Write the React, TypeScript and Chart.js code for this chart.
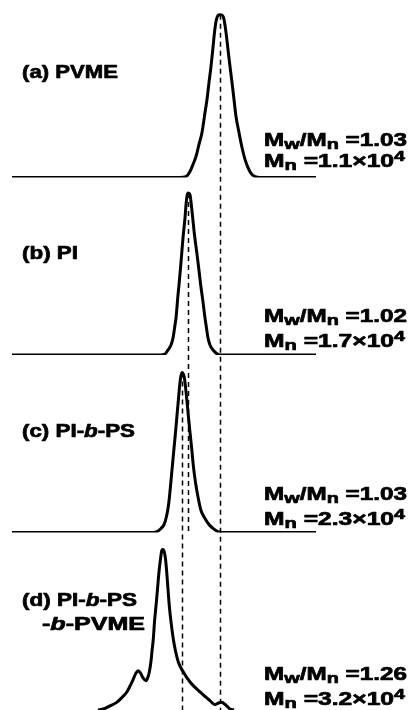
import { useEffect, useRef } from 'react';
import { Chart, registerables } from 'chart.js';

Chart.register(...registerables);

// ---- Data (elution axis in arbitrary units, normalised RI signal) ----
const elutionA = [6, 90, 93, 95, 96.5, 98, 99.5, 101, 102.5, 103.5, 104.5, 105.5, 106.5, 107.25, 108, 109, 110, 111, 112, 113, 114, 115, 116, 117, 118, 119.5, 121, 122.5, 124, 125.5, 127.5, 130, 158];
const signalA = [0, 0, 0.006, 0.037, 0.08, 0.129, 0.203, 0.276, 0.399, 0.479, 0.584, 0.682, 0.799, 0.891, 0.958, 0.995, 1.0, 0.998, 0.971, 0.891, 0.786, 0.682, 0.584, 0.479, 0.375, 0.276, 0.184, 0.111, 0.061, 0.025, 0.006, 0, 0];

const elutionB = [6, 80, 82.5, 84, 85.5, 86.5, 87.5, 88, 89, 89.5, 90.5, 91, 91.5, 92, 92.5, 93, 93.5, 94.15, 95, 95.5, 96.35, 97.25, 98.35, 99.35, 100.35, 101.5, 102.5, 103.25, 104, 105, 106.5, 108, 110, 158];
const signalB = [0, 0, 0.006, 0.031, 0.061, 0.104, 0.184, 0.227, 0.369, 0.43, 0.571, 0.645, 0.719, 0.78, 0.842, 0.921, 0.977, 0.995, 0.983, 0.94, 0.842, 0.737, 0.633, 0.534, 0.43, 0.326, 0.227, 0.166, 0.104, 0.061, 0.031, 0.012, 0, 0];

const elutionC = [6, 75, 78.5, 80.5, 82, 83, 84, 84.65, 85.5, 86.15, 87, 87.75, 88.5, 89.25, 90, 90.5, 91.15, 91.75, 92.25, 93.35, 94.15, 95, 95.85, 96.65, 97.75, 99.15, 100.5, 102.5, 104.5, 106.5, 109, 111, 158];
const signalC = [0, 0, 0.006, 0.025, 0.049, 0.086, 0.147, 0.209, 0.319, 0.405, 0.516, 0.614, 0.719, 0.823, 0.921, 0.964, 0.983, 0.971, 0.946, 0.823, 0.719, 0.614, 0.516, 0.412, 0.307, 0.209, 0.135, 0.086, 0.049, 0.025, 0.006, 0, 0];

const elutionD = [49, 51.65, 55, 58.35, 61, 63.35, 65, 66.65, 68, 69.15, 70.25, 71.5, 73, 74, 74.75, 75.5, 76, 76.65, 77.25, 78, 78.75, 79.5, 80.25, 80.85, 81.35, 82, 82.75, 83.35, 84, 84.65, 85.5, 86.65, 87.75, 89.15, 91.65, 95, 100, 105, 107.5, 109.25, 110.85, 112.25, 113.35, 115, 117];
const signalD = [0, 0.006, 0.025, 0.047, 0.077, 0.109, 0.147, 0.19, 0.227, 0.241, 0.227, 0.197, 0.18, 0.203, 0.24, 0.301, 0.362, 0.436, 0.541, 0.639, 0.743, 0.848, 0.928, 0.977, 0.985, 0.977, 0.928, 0.848, 0.743, 0.639, 0.541, 0.436, 0.362, 0.295, 0.233, 0.172, 0.111, 0.057, 0.033, 0.043, 0.047, 0.037, 0.026, 0.006, 0];

const panelTags = ['(a)', '(b)', '(c)', '(d)'];
// *b* marks an italic "b"; | marks a line break
const sampleNames = ['PVME', 'PI', 'PI-*b*-PS', 'PI-*b*-PS|-*b*-PVME'];
const dispersity = ['1.03', '1.02', '1.03', '1.26'];
const mnMantissa = ['1.1', '1.7', '2.3', '3.2'];
const mnExponent = ['4', '4', '4', '4'];

// dashed guide lines: from the peak of one trace down to the base of another
const guideFrom = [0, 1, 2];
const guideTo = [3, 2, 3];

const seriesX = [elutionA, elutionB, elutionC, elutionD];
const seriesY = [signalA, signalB, signalC, signalD];
const axisIds = ['ya', 'yb', 'yc', 'yd'];

// ---- Layout (pixels) ----
const FAMILY = "'Liberation Sans', Arial, Helvetica, sans-serif";
const FS = 18.5;
const labelX = [[22], [22], [22], [22, 42]];
const labelBase = [[78], [81.5], [82], [73.5, 97.5]]; // from panel top
const labelW = [[96], [56], [113], [115, 103]];
const noteX = 264;
const noteBase = [[-31.5, -10.5], [-33, -8], [-32.5, -7.5], [-30, -5]]; // from panel bottom
const noteW = [143, 141];

type Seg = { t: string; k?: 'sub' | 'sup' | 'it' };

function parseName(s: string): Seg[] {
  return s
    .split('*')
    .map((p, i) => ({ t: p, k: i % 2 === 1 ? 'it' : undefined } as Seg))
    .filter((g) => g.t.length > 0);
}

function fontFor(k?: string) {
  if (k === 'sub') return `bold ${FS * 0.82}px ${FAMILY}`;
  if (k === 'sup') return `bold ${FS * 0.8}px ${FAMILY}`;
  if (k === 'it') return `italic bold ${FS}px ${FAMILY}`;
  return `bold ${FS}px ${FAMILY}`;
}

function drawRich(ctx: CanvasRenderingContext2D, segs: Seg[], x: number, y: number, targetW: number) {
  const widths = segs.map((s) => {
    ctx.font = fontFor(s.k);
    return ctx.measureText(s.t).width;
  });
  const total = widths.reduce((a, b) => a + b, 0);
  const sx = targetW / total;
  ctx.save();
  ctx.translate(x, y);
  ctx.scale(sx, 1);
  ctx.lineWidth = 0.7;
  ctx.lineJoin = 'round';
  ctx.strokeStyle = '#000';
  let cx = 0;
  segs.forEach((s, i) => {
    ctx.font = fontFor(s.k);
    const dy = s.k === 'sub' ? 3 : s.k === 'sup' ? -6.5 : 0;
    ctx.fillText(s.t, cx, dy);
    ctx.strokeText(s.t, cx, dy);
    cx += widths[i];
  });
  ctx.restore();
}

const overlay = {
  id: 'gpcOverlay',
  afterDatasetsDraw(chart: any) {
    const ctx: CanvasRenderingContext2D = chart.ctx;
    const xs = chart.scales.x;
    ctx.save();
    // guide lines
    ctx.strokeStyle = '#000';
    ctx.lineWidth = 1.5;
    ctx.setLineDash([5, 4]);
    guideFrom.forEach((from, i) => {
      const ys = seriesY[from];
      let idx = 0;
      ys.forEach((v, j) => {
        if (v > ys[idx]) idx = j;
      });
      const px = Math.round(xs.getPixelForValue(seriesX[from][idx])) + 0.5;
      const y1 = chart.scales[axisIds[from]].getPixelForValue(ys[idx]);
      const y2 = chart.scales[axisIds[guideTo[i]]].getPixelForValue(0);
      ctx.beginPath();
      ctx.moveTo(px, y1);
      ctx.lineTo(px, y2);
      ctx.stroke();
    });
    ctx.setLineDash([]);
    // texts
    ctx.fillStyle = '#000';
    ctx.textBaseline = 'alphabetic';
    ctx.textAlign = 'left';
    axisIds.forEach((id, i) => {
      const sc = chart.scales[id];
      const lines = (panelTags[i] + ' ' + sampleNames[i]).split('|');
      lines.forEach((ln, j) => {
        drawRich(ctx, parseName(ln), labelX[i][j], sc.top + labelBase[i][j], labelW[i][j]);
      });
      const l1: Seg[] = [{ t: 'M' }, { t: 'w', k: 'sub' }, { t: '/M' }, { t: 'n', k: 'sub' }, { t: ' =' + dispersity[i] }];
      const l2: Seg[] = [{ t: 'M' }, { t: 'n', k: 'sub' }, { t: ' =' + mnMantissa[i] + '\u00d710' }, { t: mnExponent[i], k: 'sup' }];
      drawRich(ctx, l1, noteX, sc.bottom + noteBase[i][0], noteW[0]);
      drawRich(ctx, l2, noteX, sc.bottom + noteBase[i][1], noteW[1]);
    });
    ctx.restore();
  },
};

export default function App() {
  const ref = useRef<HTMLCanvasElement>(null);
  useEffect(() => {
    if (!ref.current) return;
    const yAxis = () => ({
      type: 'linear' as const,
      min: 0,
      max: 1.09,
      display: false,
      position: 'left' as const,
      stack: 'gpc',
      stackWeight: 1,
    });
    const chart = new Chart(ref.current, {
      type: 'line',
      data: {
        datasets: seriesY.map((ys, i) => ({
          label: panelTags[i] + ' ' + sampleNames[i].replace(/\*|\|/g, ''),
          data: ys.map((v, j) => ({ x: seriesX[i][j], y: v })),
          yAxisID: axisIds[i],
          borderColor: '#000',
          borderWidth: 3,
          pointRadius: 0,
          fill: false,
          cubicInterpolationMode: 'monotone' as const,
        })),
      },
      options: {
        responsive: false,
        maintainAspectRatio: false,
        animation: false,
        layout: { padding: 0 },
        plugins: { legend: { display: false }, tooltip: { enabled: false } },
        scales: {
          x: { type: 'linear', min: 0, max: 208, display: false },
          // stacked axes are placed bottom-up in declaration order
          yd: yAxis(),
          yc: yAxis(),
          yb: yAxis(),
          ya: yAxis(),
        },
      },
      plugins: [overlay],
    });
    return () => chart.destroy();
  }, []);
  return (
    <div style={{ position: 'absolute', left: 0, top: 0, width: 416, height: 710, background: '#fff' }}>
      <canvas ref={ref} width={416} height={710} style={{ display: 'block', width: 416, height: 710 }} />
    </div>
  );
}
